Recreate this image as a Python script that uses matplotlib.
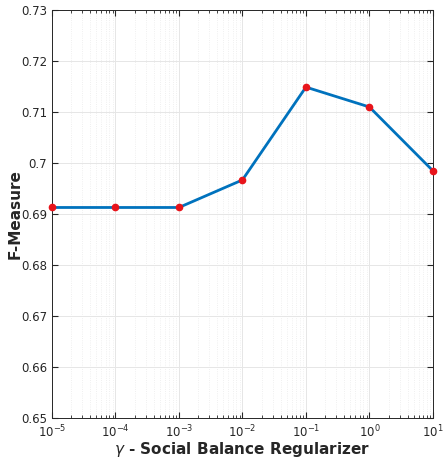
import numpy as np
import matplotlib.pyplot as plt
from matplotlib.ticker import FixedLocator, LogLocator, NullFormatter

# data
gamma = [1e-5, 1e-4, 1e-3, 1e-2, 1e-1, 1e0, 1e1]
fmeasure = [0.6913, 0.6913, 0.6913, 0.6967, 0.7149, 0.7110, 0.6985]
yticks = [0.65, 0.66, 0.67, 0.68, 0.69, 0.70, 0.71, 0.72, 0.73]
ylabels = ['0.65', '0.66', '0.67', '0.68', '0.69', '0.7', '0.71', '0.72', '0.73']
xticks = [1e-5, 1e-4, 1e-3, 1e-2, 1e-1, 1e0, 1e1]
xlabels = [r'$10^{-5}$', r'$10^{-4}$', r'$10^{-3}$', r'$10^{-2}$', r'$10^{-1}$', r'$10^{0}$', r'$10^{1}$']

plt.rcParams['font.family'] = ['DejaVu Sans']
plt.rcParams['mathtext.fontset'] = 'dejavusans'
plt.rcParams['axes.unicode_minus'] = False

fig = plt.figure(figsize=(4.44, 4.58), dpi=100)
ax = fig.add_axes([0.117, 0.087, 0.858, 0.891])

ax.plot(gamma, fmeasure, color='#0072BD', lw=2, zorder=3)
ax.plot(gamma, fmeasure, 'o', ms=4.5, mfc='#E8141B', mec='#E8141B', zorder=4, clip_on=False)

ax.set_xscale('log')
ax.set_xlim(1e-5, 1e1)
ax.set_ylim(0.65, 0.73)
ax.yaxis.set_major_locator(FixedLocator(yticks))
ax.set_yticklabels(ylabels)
ax.xaxis.set_major_locator(FixedLocator(xticks))
ax.set_xticklabels(xlabels)
ax.xaxis.set_minor_locator(LogLocator(base=10, subs=np.arange(2, 10), numticks=100))
ax.xaxis.set_minor_formatter(NullFormatter())

ax.grid(True, which='major', color='#e6e6e6', lw=0.7)
ax.grid(True, which='minor', axis='x', color='#ebebeb', lw=0.6, ls=':')
ax.set_axisbelow(True)

for s in ax.spines.values():
    s.set_color('#262626')
    s.set_linewidth(0.7)
ax.tick_params(which='both', direction='in', top=True, right=True, colors='#262626', labelsize=8.5)
ax.tick_params(which='major', length=4)
ax.tick_params(which='minor', length=2)
ax.tick_params(axis='x', pad=4)

ax.set_xlabel(r'$\gamma$ - Social Balance Regularizer', fontsize=11, fontweight='bold', color='#262626', labelpad=0)
ax.set_ylabel('F-Measure', fontsize=11, fontweight='bold', color='#262626')
ax.yaxis.set_label_coords(-0.078, 0.5)

fig.savefig('out.png', dpi=100)
